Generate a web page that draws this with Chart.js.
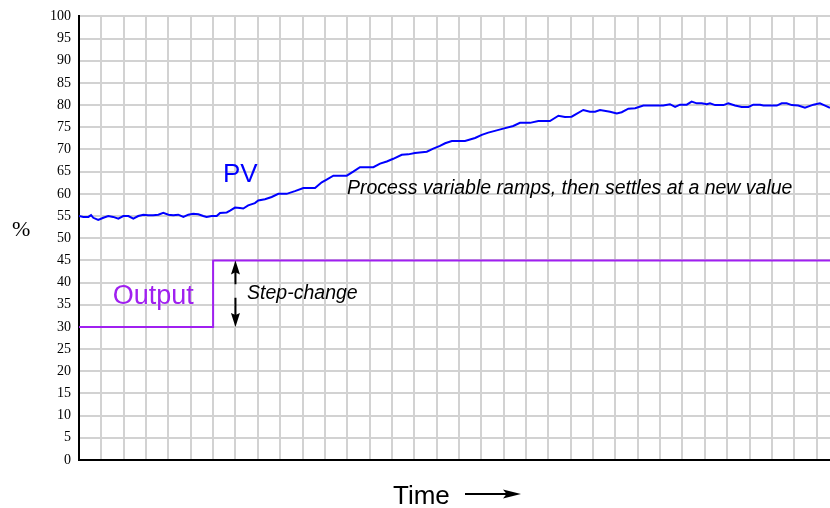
<!DOCTYPE html>
<html>
<head>
<meta charset="utf-8">
<script src="https://cdn.jsdelivr.net/npm/chart.js@4.4.0/dist/chart.umd.min.js"></script>
<style>
  html, body { margin: 0; padding: 0; background: #ffffff; }
  #wrap { width: 830px; height: 508px; position: relative; }
</style>
</head>
<body>
<div id="wrap"><canvas id="c" width="830" height="508"></canvas></div>
<script>
// ---- data (time in grid units, values in %) ----
const pvTime = [0, 0.19, 0.42, 0.54, 0.64, 0.86, 1.09, 1.31, 1.53, 1.76, 1.98, 2.21, 2.43, 2.65, 2.88, 3.10, 3.32, 3.55, 3.77, 4.00, 4.22, 4.44, 4.67, 4.89, 5.11, 5.34, 5.56, 5.71, 5.94, 6.16, 6.31, 6.61, 6.76, 6.98, 7.20, 7.35, 7.57, 7.87, 8.02, 8.32, 8.62, 8.92, 9.29, 9.66, 10.04, 10.56, 10.86, 11.08, 11.38, 11.98, 12.27, 12.57, 13.17, 13.47, 13.77, 14.06, 14.44, 14.73, 15.03, 15.56, 15.85, 16.15, 16.38, 16.68, 17.27, 17.72, 18.02, 18.31, 18.69, 18.98, 19.43, 19.73, 20.18, 20.55, 21.07, 21.45, 21.74, 22.04, 22.56, 22.86, 23.09, 23.31, 23.76, 24.06, 24.28, 24.58, 24.88, 25.25, 26.14, 26.44, 26.67, 26.89, 27.19, 27.41, 27.64, 27.86, 28.09, 28.23, 28.46, 28.83, 29.05, 29.35, 29.65, 29.95, 30.17, 30.47, 30.62, 31.22, 31.44, 31.66, 31.89, 32.18, 32.48, 32.86, 33.15, 33.38, 33.60];
const pvValues = [55.0, 54.8, 54.8, 55.2, 54.6, 54.1, 54.6, 55.0, 54.8, 54.4, 55.0, 55.0, 54.4, 55.0, 55.3, 55.2, 55.2, 55.3, 55.7, 55.3, 55.2, 55.3, 54.8, 55.3, 55.5, 55.4, 55.0, 54.8, 55.0, 55.0, 55.7, 55.8, 56.2, 56.9, 56.8, 56.7, 57.4, 57.9, 58.5, 58.8, 59.3, 60.0, 60.0, 60.6, 61.3, 61.3, 62.6, 63.2, 64.1, 64.1, 65.0, 66.0, 66.0, 66.8, 67.3, 67.9, 68.8, 68.9, 69.2, 69.5, 70.2, 70.8, 71.4, 71.9, 71.9, 72.6, 73.3, 73.8, 74.3, 74.7, 75.3, 76.0, 76.0, 76.4, 76.4, 77.6, 77.3, 77.4, 78.9, 78.5, 78.5, 78.9, 78.5, 78.1, 78.4, 79.2, 79.3, 79.9, 79.9, 80.2, 79.6, 80.1, 80.1, 80.8, 80.4, 80.4, 80.2, 80.4, 80.0, 80.0, 80.4, 79.9, 79.6, 79.6, 80.1, 80.1, 79.9, 79.9, 80.4, 80.4, 80.0, 79.9, 79.4, 80.1, 80.4, 79.9, 79.4];
const outputTime = [0, 6, 33.6];
const outputValues = [30, 45, 45];
const timeMin = 0;
const timeMax = 33.6;
const yTicks = [0, 5, 10, 15, 20, 25, 30, 35, 40, 45, 50, 55, 60, 65, 70, 75, 80, 85, 90, 95, 100];
const seriesLabels = ["PV", "Output"];
const annotations = [
  { text: "PV", x: 6.44, y: 62.6, color: "#0000ff", font: "26px 'Liberation Sans', Arial, sans-serif" },
  { text: "Output", x: 1.51, y: 35.1, color: "#a020f0", font: "27px 'Liberation Sans', Arial, sans-serif" },
  { text: "Step-change", x: 7.52, y: 36.2, color: "#000000", font: "italic 19.5px 'Liberation Sans', Arial, sans-serif" },
  { text: "Process variable ramps, then settles at a new value", x: 11.99, y: 60.0, color: "#000000", font: "italic 19.5px 'Liberation Sans', Arial, sans-serif" }
];
const stepArrow = { x: 7, from: 30, to: 45, gapLow: 36.6, gapHigh: 39.6 };

const pvData = pvTime.map((t, i) => ({ x: t, y: pvValues[i] }));
const outData = outputTime.map((t, i) => ({ x: t, y: outputValues[i] }));

function arrowHead(ctx, x, y, dir, len, half) {
  ctx.beginPath();
  if (dir === 'right') {
    ctx.moveTo(x, y);
    ctx.lineTo(x - len, y - half);
    ctx.lineTo(x - len * 0.8, y);
    ctx.lineTo(x - len, y + half);
  } else {
    ctx.moveTo(x, y);
    ctx.lineTo(x - half, y - dir * len);
    ctx.lineTo(x, y - dir * len * 0.85);
    ctx.lineTo(x + half, y - dir * len);
  }
  ctx.closePath();
  ctx.fill();
}

const decor = {
  id: 'decor',
  afterDatasetsDraw(chart) {
    const ctx = chart.ctx;
    const xs = chart.scales.x, ys = chart.scales.y;
    ctx.save();
    ctx.textBaseline = 'alphabetic';
    ctx.textAlign = 'left';
    annotations.forEach(a => {
      ctx.font = a.font;
      ctx.fillStyle = a.color;
      ctx.fillText(a.text, xs.getPixelForValue(a.x), ys.getPixelForValue(a.y));
    });
    // step-change arrows
    const ax = xs.getPixelForValue(stepArrow.x);
    const yTop = ys.getPixelForValue(stepArrow.to);
    const yBot = ys.getPixelForValue(stepArrow.from);
    const gTop = ys.getPixelForValue(stepArrow.gapHigh);
    const gBot = ys.getPixelForValue(stepArrow.gapLow);
    ctx.strokeStyle = '#000';
    ctx.fillStyle = '#000';
    ctx.lineWidth = 2;
    ctx.beginPath();
    ctx.moveTo(ax, gTop); ctx.lineTo(ax, yTop + 8);
    ctx.moveTo(ax, gBot); ctx.lineTo(ax, yBot - 8);
    ctx.stroke();
    arrowHead(ctx, ax, yTop, -1, 14, 4.5);
    arrowHead(ctx, ax, yBot, 1, 14, 4.5);
    // axis titles
    ctx.font = "22px 'Liberation Serif', 'Times New Roman', serif";
    ctx.fillText('%', 12, 236);
    ctx.font = "26px 'Liberation Sans', Arial, sans-serif";
    ctx.fillText('Time', 393, 504);
    ctx.lineWidth = 2;
    ctx.beginPath();
    ctx.moveTo(465, 494); ctx.lineTo(508, 494);
    ctx.stroke();
    arrowHead(ctx, 521, 494, 'right', 18, 4.5);
    ctx.restore();
  }
};

new Chart(document.getElementById('c'), {
  type: 'line',
  data: {
    datasets: [
      { label: seriesLabels[0], data: pvData, borderColor: '#0000ff', borderWidth: 2, pointRadius: 0, tension: 0, fill: false },
      { label: seriesLabels[1], data: outData, borderColor: '#a020f0', borderWidth: 2, pointRadius: 0, stepped: 'before', fill: false }
    ]
  },
  options: {
    responsive: false,
    animation: false,
    events: [],
    layout: { padding: { top: 13, right: 0, left: 0, bottom: 0 } },
    plugins: { legend: { display: false }, tooltip: { enabled: false } },
    scales: {
      x: {
        type: 'linear',
        min: timeMin,
        max: timeMax,
        afterFit(scale) { scale.height = 48; },
        ticks: { display: false, stepSize: 1, includeBounds: false },
        grid: { color: '#d2d2d2', lineWidth: 2, drawTicks: false },
        border: { color: '#000', width: 2 }
      },
      y: {
        type: 'linear',
        min: yTicks[0],
        max: yTicks[yTicks.length - 1],
        afterFit(scale) { scale.width = 79; },
        afterBuildTicks(scale) { scale.ticks = yTicks.map(v => ({ value: v })); },
        ticks: { stepSize: 5, color: '#000', padding: 8, font: { family: "'Liberation Serif', 'Times New Roman', serif", size: 14 } },
        grid: { color: '#d2d2d2', lineWidth: 2, drawTicks: false },
        border: { color: '#000', width: 2 }
      }
    }
  },
  plugins: [decor]
});
</script>
</body>
</html>
